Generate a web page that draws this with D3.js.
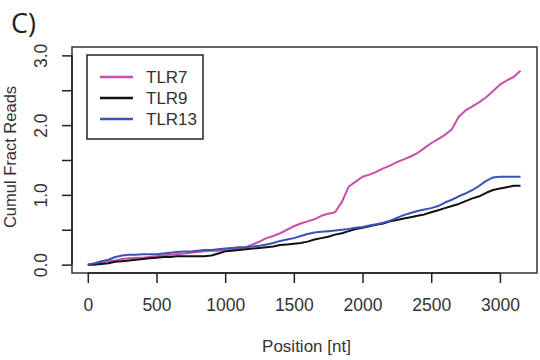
<!DOCTYPE html>
<html>
<head>
<meta charset="utf-8">
<script src="https://cdn.jsdelivr.net/npm/d3@7"></script>
<style>
  body { margin: 0; background: #fff; }
  svg { font-family: "Liberation Sans", Arial, sans-serif; }
</style>
</head>
<body>
<div id="chart"></div>
<script>
// positions along the transcript (nt)
const positions = [0,50,100,150,200,250,300,350,400,450,500,550,600,650,700,750,800,850,900,950,
  1000,1050,1100,1150,1200,1250,1300,1350,1400,1450,1500,1550,1600,1650,1700,1750,1800,1850,1900,1950,
  2000,2050,2100,2150,2200,2250,2300,2350,2400,2450,2500,2550,2600,2650,2700,2750,2800,2850,2900,2950,
  3000,3050,3100,3150];

const tlr7 = [0,0.01,0.03,0.05,0.06,0.08,0.09,0.10,0.10,0.11,0.12,0.13,0.14,0.15,0.16,0.17,0.18,0.19,0.20,0.20,
  0.21,0.22,0.23,0.25,0.29,0.33,0.38,0.41,0.45,0.50,0.55,0.59,0.62,0.65,0.70,0.73,0.75,0.90,1.12,1.19,
  1.26,1.29,1.33,1.38,1.42,1.47,1.51,1.55,1.60,1.67,1.74,1.80,1.86,1.94,2.12,2.21,2.27,2.33,2.40,2.49,
  2.58,2.64,2.69,2.78];

const tlr9 = [0,0,0.01,0.02,0.04,0.05,0.06,0.07,0.08,0.09,0.10,0.11,0.11,0.12,0.12,0.12,0.12,0.12,0.13,0.16,
  0.19,0.20,0.21,0.22,0.23,0.24,0.25,0.26,0.28,0.29,0.30,0.31,0.33,0.36,0.38,0.40,0.43,0.45,0.48,0.51,
  0.53,0.55,0.57,0.59,0.62,0.64,0.66,0.68,0.70,0.72,0.75,0.78,0.81,0.84,0.87,0.91,0.95,0.98,1.03,1.07,
  1.09,1.11,1.13,1.13];

const tlr13 = [0,0.02,0.05,0.07,0.11,0.13,0.14,0.14,0.15,0.15,0.15,0.16,0.17,0.18,0.19,0.19,0.20,0.21,0.21,0.22,
  0.23,0.24,0.25,0.25,0.26,0.27,0.29,0.31,0.34,0.36,0.38,0.41,0.44,0.46,0.47,0.48,0.49,0.50,0.51,0.53,
  0.54,0.56,0.58,0.60,0.63,0.67,0.71,0.74,0.77,0.79,0.81,0.84,0.89,0.93,0.98,1.02,1.07,1.13,1.20,1.25,
  1.26,1.26,1.26,1.26];

const seriesNames = ['TLR7', 'TLR9', 'TLR13'];
const seriesColors = ['#c94ea8', '#111111', '#3b52b6'];
const xTicks = [0, 500, 1000, 1500, 2000, 2500, 3000];
const yTicks = [0, 0.5, 1, 1.5, 2, 2.5, 3];
const yLabelled = [0, 1, 2, 3];

const W = 540, H = 360;
const box = {left: 72, right: 537, top: 47, bottom: 273};

const svg = d3.select('#chart').append('svg')
  .attr('width', W).attr('height', H);

const x = d3.scaleLinear().domain([-115, 3270]).range([box.left, box.right]);
const y = d3.scaleLinear().domain([-0.12, 3.12]).range([box.bottom, box.top]);

// panel letter
svg.append('text').attr('x', 11).attr('y', 33)
  .attr('font-family', '"Open Sans", sans-serif')
  .attr('font-size', 27).attr('fill', '#222').text('C)');

// series lines
const series = [tlr7, tlr9, tlr13];
const line = d3.line()
  .x((d, i) => x(positions[i]))
  .y(d => y(d));

series.forEach((vals, k) => {
  svg.append('path')
    .datum(vals)
    .attr('fill', 'none')
    .attr('stroke', seriesColors[k])
    .attr('stroke-width', 2)
    .attr('stroke-linejoin', 'round')
    .attr('d', line);
});

// box
svg.append('rect')
  .attr('x', box.left).attr('y', box.top)
  .attr('width', box.right - box.left).attr('height', box.bottom - box.top)
  .attr('fill', 'none').attr('stroke', '#333').attr('stroke-width', 1.5);

// x axis
const xAxis = d3.axisBottom(x).tickValues(xTicks).tickSize(10).tickPadding(16)
  .tickFormat(d3.format('d'));
const gx = svg.append('g').attr('transform', `translate(0,${box.bottom})`).call(xAxis);
gx.select('.domain').attr('d', `M${x(0)},0H${x(3000)}`).attr('stroke', '#222').attr('stroke-width', 1.5);
gx.selectAll('.tick line').attr('stroke', '#222').attr('stroke-width', 1.5);
gx.selectAll('.tick text').attr('font-size', 17.5).attr('fill', '#333')
  .attr('font-family', '"Liberation Sans", Arial, sans-serif');

// y axis
const yAxis = d3.axisLeft(y).tickValues(yTicks).tickSize(10)
  .tickFormat(d => yLabelled.includes(d) ? d3.format('.1f')(d) : '');
const gy = svg.append('g').attr('transform', `translate(${box.left},0)`).call(yAxis);
gy.select('.domain').attr('d', `M0,${y(0)}V${y(3)}`).attr('stroke', '#222').attr('stroke-width', 1.5);
gy.selectAll('.tick line').attr('stroke', '#222').attr('stroke-width', 1.5);
gy.selectAll('.tick text')
  .attr('font-size', 17.5).attr('fill', '#333')
  .attr('font-family', '"Liberation Sans", Arial, sans-serif')
  .attr('x', null).attr('dy', null)
  .attr('text-anchor', 'middle')
  .attr('transform', 'translate(-31,0) rotate(-90)')
  .attr('dominant-baseline', 'central');

// axis titles
svg.append('text')
  .attr('x', (box.left + box.right) / 2 + 2).attr('y', 352)
  .attr('text-anchor', 'middle').attr('font-size', 17).attr('fill', '#333')
  .text('Position [nt]');

svg.append('text')
  .attr('transform', 'translate(16,157) rotate(-90)')
  .attr('text-anchor', 'middle').attr('font-size', 16.5).attr('fill', '#333')
  .text('Cumul Fract Reads');

// legend
const lg = svg.append('g');
lg.append('rect').attr('x', 87).attr('y', 55).attr('width', 116).attr('height', 84)
  .attr('fill', '#fff').attr('stroke', '#222').attr('stroke-width', 1.5);
seriesNames.forEach((name, k) => {
  const yy = 77 + k * 21;
  lg.append('line').attr('x1', 100).attr('x2', 133).attr('y1', yy).attr('y2', yy)
    .attr('stroke', seriesColors[k]).attr('stroke-width', 2.5);
  lg.append('text').attr('x', 146).attr('y', yy).attr('dy', '0.36em')
    .attr('font-size', 17).attr('fill', '#333').text(name);
});
</script>
</body>
</html>
